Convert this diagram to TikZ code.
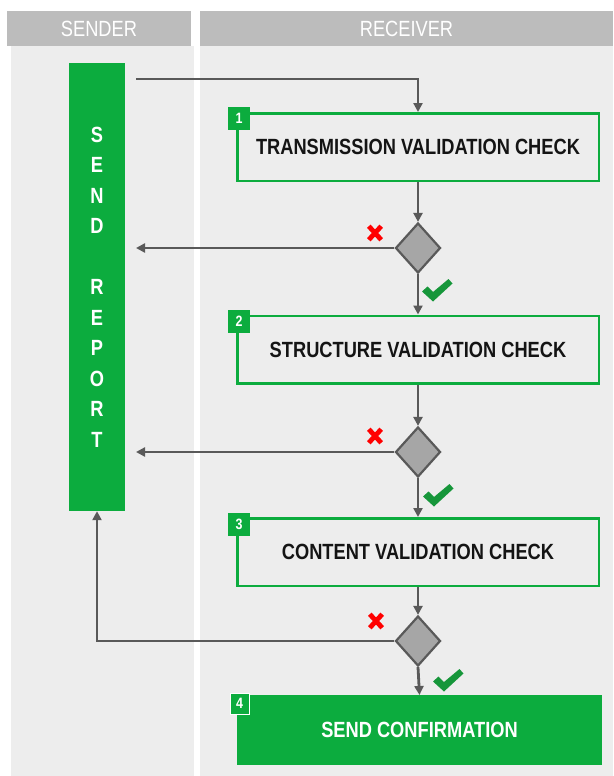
\documentclass[tikz,border=0pt]{standalone}
\usepackage{fontspec}
\setmainfont{Liberation Sans}[FakeStretch=0.83]
\usetikzlibrary{arrows.meta,shapes.geometric}
\definecolor{lane}{HTML}{EDEDED}
\definecolor{hdr}{HTML}{BCBCBC}
\definecolor{grn}{RGB}{12,172,62}
\definecolor{chk}{RGB}{22,150,58}
\definecolor{conn}{HTML}{595959}
\definecolor{dfill}{HTML}{A6A6A6}
\definecolor{xred}{RGB}{255,0,0}
\begin{document}
\begin{tikzpicture}[x=1pt,y=-1pt,
  header/.style={fill=hdr, text=white, font=\fontsize{22}{24}\selectfont, inner sep=0pt},
  stepbox/.style={draw=grn, line width=2.5pt, minimum width=361.5pt, minimum height=67.5pt, inner sep=0pt, font=\bfseries\fontsize{22}{24}\selectfont, text=black!92},
  finalbox/.style={fill=grn, draw=grn, line width=1pt, minimum width=364pt, minimum height=69pt, inner sep=0pt, font=\bfseries\fontsize{22}{24}\selectfont, text=white},
  badge/.style={fill=grn, text=white, minimum width=22pt, minimum height=23pt, inner sep=0pt, font=\bfseries\fontsize{15}{16}\selectfont},
  decision/.style={diamond, draw=conn, fill=dfill, line width=2.2pt, minimum width=45pt, minimum height=50pt, inner sep=0pt},
  sendbar/.style={fill=grn, minimum width=56pt, minimum height=448pt, inner sep=0pt, text=white, align=center, font=\bfseries\fontsize{22}{30.5}\selectfont},
  conn/.style={draw=conn, line width=2.8pt, -{Triangle[length=9pt,width=9pt]}},
  pics/tick/.style={code={\fill[chk] (0,12.5) -- (5.5,7.5) -- (11,13) -- (26.5,0) -- (30.5,4.5) -- (11,22.5) -- cycle;}},
  pics/cross/.style={code={\draw[xred, line width=4.8pt] (-6.2,-6.8) -- (6.2,6.8) (-6.2,6.8) -- (6.2,-6.8);}}
]
\useasboundingbox (0,0) rectangle (613,776);
\fill[white] (0,0) rectangle (613,776);
% lanes
\fill[lane] (11,46) rectangle (194,776);
\fill[lane] (200,46) rectangle (613,776);
\node[header, minimum width=184pt, minimum height=35pt] (hs) at (99,28.5) {SENDER};
\node[header, minimum width=413pt, minimum height=35pt] (hr) at (406.5,28.5) {RECEIVER};

% sender bar
\node[sendbar] (bar) at (97,287) {S\\E\\N\\D\\\strut\\R\\E\\P\\O\\R\\T};

% steps
\node[stepbox] (b1) at (418,147) {TRANSMISSION VALIDATION CHECK};
\node[stepbox] (b2) at (418,349.5) {STRUCTURE VALIDATION CHECK};
\node[stepbox] (b3) at (418,552) {CONTENT VALIDATION CHECK};
\node[finalbox] (b4) at (419.5,730) {SEND CONFIRMATION};

\node[badge] (n1) at (239,118.5) {1};
\node[badge] (n2) at (239,321) {2};
\node[badge] (n3) at (239,524) {3};
\node[badge, draw=white, line width=1pt, minimum width=19pt, minimum height=21pt] (n4) at (239.5,703.5) {4};

% decisions
\node[decision] (d1) at (418,248) {};
\node[decision] (d2) at (418,452) {};
\node[decision] (d3) at (418,641) {};

% free ends
\coordinate (t0) at (136,79);
\coordinate (r1) at (136,248);
\coordinate (r2) at (136,452);

% connectors
\draw[conn] (t0) -| (b1.north);
\draw[conn] (b1.south) -- (d1.north);
\draw[conn] (d1.south) -- (b2.north);
\draw[conn] (b2.south) -- (d2.north);
\draw[conn] (d2.south) -- (b3.north);
\draw[conn] (b3.south) -- (d3.north);
\draw[conn] (d3.south) -- (b4.north);
\draw[conn] (d1.west) -- (r1);
\draw[conn] (d2.west) -- (r2);
\draw[conn] (d3.west) -| (bar.south);

% marks
\pic at (375,233) {cross};
\pic at (375,436) {cross};
\pic at (376,621) {cross};
\pic at (422,279) {tick};
\pic at (423,484) {tick};
\pic at (433,669) {tick};
\end{tikzpicture}
\end{document}
